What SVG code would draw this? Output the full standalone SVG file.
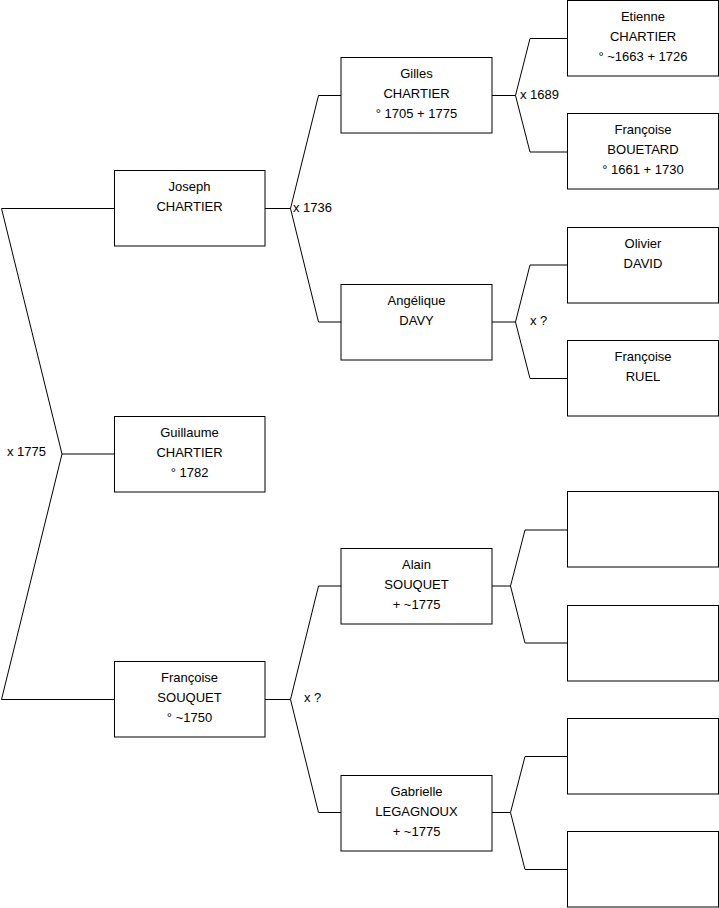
<svg xmlns="http://www.w3.org/2000/svg" width="719" height="908" viewBox="0 0 719 908">
<style>
.box{fill:#fff;stroke:#000;stroke-width:1}
.c{fill:none;stroke:#000;stroke-width:1}
text{font-family:"Liberation Sans",Arial,sans-serif;font-size:13px;fill:#000}
.n{text-anchor:middle}
</style>
<rect width="719" height="908" fill="#fff"/>
<g id="connectors">
<path class="c" d="M114.5,208.5H1.5L62,454L1.5,699.5H114.5M62,454H114.5"/>
<path class="c" d="M265,208.5H290.5L318.5,95.5H341M290.5,208.5L318.5,322H341"/>
<path class="c" d="M265,699.5H290.5L318.5,586H341M290.5,699.5L318.5,812.5H341"/>
<path class="c" d="M492,95.5H515.5L530,38.5H567M515.5,95.5L530,152H567"/>
<path class="c" d="M492,322H515.5L530,265H567M515.5,322L530,378.5H567"/>
<path class="c" d="M492,586H510.5L525,530H567M510.5,586L525,643H567"/>
<path class="c" d="M492,812.5H510.5L525,756.5H567M510.5,812.5L525,869.5H567"/>
<text x="7" y="456">x 1775</text>
<text x="293" y="212">x 1736</text>
<text x="304" y="702">x ?</text>
<text x="520" y="99">x 1689</text>
<text x="530" y="325">x ?</text>
</g>
<g id="joseph"><rect class="box" x="114.5" y="170.5" width="150.5" height="75.5"/><text class="n" x="189.5" y="191">Joseph</text><text class="n" x="189.5" y="211">CHARTIER</text></g>
<g id="guillaume"><rect class="box" x="114.5" y="416.5" width="150.5" height="75.5"/><text class="n" x="189.5" y="437">Guillaume</text><text class="n" x="189.5" y="457">CHARTIER</text><text class="n" x="189.5" y="477">° 1782</text></g>
<g id="francoise-souquet"><rect class="box" x="114.5" y="661.5" width="150.5" height="75.5"/><text class="n" x="189.5" y="682">Françoise</text><text class="n" x="189.5" y="702">SOUQUET</text><text class="n" x="189.5" y="722">° ~1750</text></g>
<g id="gilles"><rect class="box" x="341" y="57.5" width="151" height="75.5"/><text class="n" x="416.5" y="78">Gilles</text><text class="n" x="416.5" y="98">CHARTIER</text><text class="n" x="416.5" y="118">° 1705 + 1775</text></g>
<g id="angelique"><rect class="box" x="341" y="284.5" width="151" height="75.5"/><text class="n" x="416.5" y="305">Angélique</text><text class="n" x="416.5" y="325">DAVY</text></g>
<g id="alain"><rect class="box" x="341" y="548.5" width="151" height="75.5"/><text class="n" x="416.5" y="569">Alain</text><text class="n" x="416.5" y="589">SOUQUET</text><text class="n" x="416.5" y="609">+ ~1775</text></g>
<g id="gabrielle"><rect class="box" x="341" y="775.5" width="151" height="75.5"/><text class="n" x="416.5" y="796">Gabrielle</text><text class="n" x="416.5" y="816">LEGAGNOUX</text><text class="n" x="416.5" y="836">+ ~1775</text></g>
<g id="etienne"><rect class="box" x="567.5" y="0.5" width="151" height="75.5"/><text class="n" x="643" y="21">Etienne</text><text class="n" x="643" y="41">CHARTIER</text><text class="n" x="643" y="61">° ~1663 + 1726</text></g>
<g id="francoise-bouetard"><rect class="box" x="567.5" y="113.5" width="151" height="75.5"/><text class="n" x="643" y="134">Françoise</text><text class="n" x="643" y="154">BOUETARD</text><text class="n" x="643" y="174">° 1661 + 1730</text></g>
<g id="olivier"><rect class="box" x="567.5" y="227.5" width="151" height="75.5"/><text class="n" x="643" y="248">Olivier</text><text class="n" x="643" y="268">DAVID</text></g>
<g id="francoise-ruel"><rect class="box" x="567.5" y="340.5" width="151" height="75.5"/><text class="n" x="643" y="361">Françoise</text><text class="n" x="643" y="381">RUEL</text></g>
<g id="empty1"><rect class="box" x="567.5" y="491.5" width="151" height="75.5"/></g>
<g id="empty2"><rect class="box" x="567.5" y="605.5" width="151" height="75.5"/></g>
<g id="empty3"><rect class="box" x="567.5" y="718.5" width="151" height="75.5"/></g>
<g id="empty4"><rect class="box" x="567.5" y="831.5" width="151" height="75.5"/></g>
</svg>
